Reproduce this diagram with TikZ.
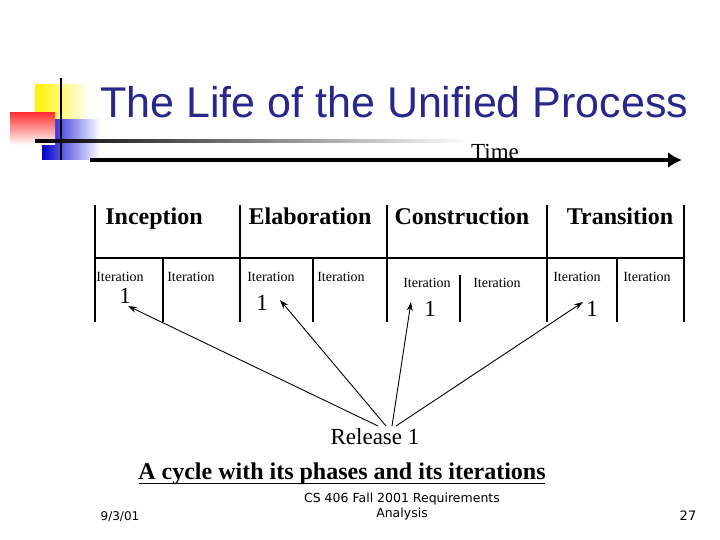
\documentclass[tikz,border=0pt]{standalone}
\usepackage{fontspec}
\usetikzlibrary{arrows.meta,calc}
\setmainfont{Liberation Serif}
\newfontfamily\titlefont{Liberation Sans}
\newfontfamily\footfont{DejaVu Sans}
\definecolor{titleblue}{RGB}{40,40,140}
\begin{document}
\begin{tikzpicture}[x=1pt,y=-1pt,
  phase/.style={font=\bfseries\fontsize{24}{24}\selectfont,anchor=base},
  iter/.style={font=\fontsize{14}{14}\selectfont,anchor=base},
  one/.style={font=\fontsize{23}{23}\selectfont,anchor=base},
  grid/.style={line width=1.6pt},
  arr/.style={-{Stealth[length=9pt,width=6pt]},line width=0.9pt}]
\useasboundingbox (0,0) rectangle (720,540);
% logo
\shade[left color=yellow!90!orange,right color=white] (35,85) rectangle (90,125);
\shade[left color=blue!80!black,right color=white] (42,120) rectangle (100,160);
\shade[top color=red!80,bottom color=white] (10,113) rectangle (55,145);
\draw[line width=1.5pt] (61,78) -- (61,160);
\shade[left color=black,right color=white] (35,140) rectangle (470,142.5);
\node[font=\titlefont\fontsize{43}{43}\selectfont,text=titleblue,anchor=base west,inner sep=0pt] (title) at (100,118) {The Life of the Unified Process};
% time arrow
\coordinate (t0) at (90,160);
\coordinate (t1) at (682,160);
\draw[line width=4pt,-{Latex[length=14pt,width=16pt]}] (t0) -- (t1);
\node[font=\fontsize{23}{23}\selectfont,anchor=base] (time) at (495,160) {Time};
% grid
\draw[grid] (95,258) -- (684,258);
\foreach \x in {95,240,387,547,684} \draw[grid] (\x,205) -- (\x,322);
\foreach \x in {163,313,617} \draw[grid] (\x,258) -- (\x,322);
\draw[grid] (460,275) -- (460,322);
\node[phase] (p1) at (154,225) {Inception};
\node[phase] (p2) at (310,225) {Elaboration};
\node[phase] (p3) at (462,225) {Construction};
\node[phase] (p4) at (620,225) {Transition};
\foreach \x/\y/\n in {120/281/a,191/281/b,271/281/c,341/281/d,427/287/e,497/287/f,577/281/g,647/281/h}
  \node[iter] (it\n) at (\x,\y) {Iteration};
\node[one] (o1) at (125,303) {1};
\node[one] (o2) at (262,310) {1};
\node[one] (o3) at (430,316) {1};
\node[one] (o4) at (592,316) {1};
\coordinate (a1) at (128,306);
\coordinate (a2) at (280,300);
\coordinate (a3) at (411,302);
\coordinate (a4) at (583,302);
\coordinate (s1) at (378,426);
\coordinate (s2) at (386,426);
\coordinate (s3) at (392,426);
\coordinate (s4) at (396,426);
\draw[arr] (s1) -- (a1);
\draw[arr] (s2) -- (a2);
\draw[arr] (s3) -- (a3);
\draw[arr] (s4) -- (a4);
\node[font=\fontsize{23}{23}\selectfont,anchor=base] (rel) at (375,444) {Release 1};
\node[font=\bfseries\fontsize{24}{24}\selectfont,anchor=base] (cap) at (342,479) {A cycle with its phases and its iterations};
\coordinate (u0) at ($(cap.base west)+(4,4)$);
\coordinate (u1) at ($(cap.base east)+(-4,4)$);
\draw[line width=1pt] (u0) -- (u1);
\node[font=\footfont\fontsize{12}{12}\selectfont,anchor=base] (date) at (120,520) {9/3/01};
\node[font=\footfont\fontsize{12.5}{15}\selectfont,align=center] (foot) at (402,507) {CS 406 Fall 2001 Requirements\\Analysis};
\node[font=\footfont\fontsize{13}{13}\selectfont,anchor=base] (pg) at (688,520) {27};
\end{tikzpicture}
\end{document}
